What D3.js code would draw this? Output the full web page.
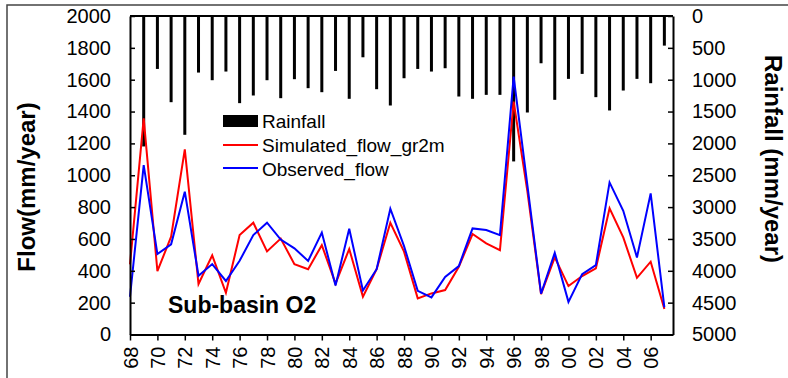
<!DOCTYPE html>
<html>
<head>
<meta charset="utf-8">
<script src="https://cdn.jsdelivr.net/npm/d3@7"></script>
<style>
    body { margin: 0; background: #fff; }
    svg { display: block; font-family: "Liberation Sans", Arial, sans-serif; }
</style>
</head>
<body>
<div id="chart"></div>
<script>
// Year labels (1968 - 2007)
var years = ["68","69","70","71","72","73","74","75","76","77","78","79",
    "80","81","82","83","84","85","86","87","88","89","90","91","92","93",
    "94","95","96","97","98","99","00","01","02","03","04","05","06","07"];

// Simulated flow gr2m (mm/year)
var simulated = [440, 1357, 398, 614, 1163, 317, 497, 262, 624, 702, 522, 602,
    442, 410, 561, 320, 537, 237, 410, 702, 520, 227, 258, 279, 425, 631,
    572, 530, 1462, 900, 253, 484, 304, 367, 415, 792, 610, 356, 457, 160];

// Observed flow (mm/year)
var observed = [237, 1064, 505, 566, 897, 369, 442, 336, 463, 624, 702, 596,
    541, 462, 640, 308, 664, 276, 410, 790, 555, 274, 233, 362, 430, 666,
    656, 624, 1619, 940, 256, 513, 205, 379, 436, 955, 777, 484, 886, 170];

// Rainfall (mm/year), no bar for 68
var rainfall = [null, 2048, 831, 1353, 1865, 888, 1008, 872, 1368, 1248, 1008, 1290,
    992, 1133, 1196, 862, 1300, 648, 1149, 1405, 977, 831, 872, 820, 1264, 1300,
    1238, 1238, 2283, 1515, 742, 1316, 987, 909, 1274, 1483, 1170, 987, 1055, 465];

var flowTicks = [0, 200, 400, 600, 800, 1000, 1200, 1400, 1600, 1800, 2000];
var rainTicks = [0, 500, 1000, 1500, 2000, 2500, 3000, 3500, 4000, 4500, 5000];

function init() {
    var w = 788, h = 378;
    var left = 130, right = 673, top = 16, bottom = 334.5;

    var svg = d3.select("#chart").append("svg")
        .attr("width", w)
        .attr("height", h);

    // outer frame (only top and left show)
    svg.append("path")
        .attr("d", "M7,378V5H790")
        .attr("fill", "none")
        .attr("stroke", "#444")
        .attr("stroke-width", 1.5);

    var x = d3.scaleLinear().domain([0, 39.63]).range([left, right]);
    var yFlow = d3.scaleLinear().domain([0, 2000]).range([bottom, top]);
    var yRain = d3.scaleLinear().domain([0, 5000]).range([top, bottom]);

    // Rainfall bars hanging from the top
    svg.append("g").selectAll("rect")
        .data(rainfall.map((v, i) => ({ i: i, v: v })).filter(d => d.v != null))
        .enter().append("rect")
        .attr("x", d => x(d.i) - 1.5)
        .attr("y", yRain(0))
        .attr("width", 3)
        .attr("height", d => yRain(d.v) - yRain(0))
        .attr("fill", "#000");

    // Flow lines
    var line = d3.line().x((d, i) => x(i)).y(d => yFlow(d));
    svg.append("path")
        .datum(simulated)
        .attr("d", line)
        .attr("fill", "none")
        .attr("stroke", "#ff0000")
        .attr("stroke-width", 2);
    svg.append("path")
        .datum(observed)
        .attr("d", line)
        .attr("fill", "none")
        .attr("stroke", "#0000ff")
        .attr("stroke-width", 2);

    // Left axis
    var gl = svg.append("g")
        .attr("transform", `translate(${left},0)`)
        .call(d3.axisLeft(yFlow).tickValues(flowTicks).tickFormat(d3.format("d"))
            .tickSizeInner(-5).tickSizeOuter(0).tickPadding(19));

    // Right axis
    var gr = svg.append("g")
        .attr("transform", `translate(${right},0)`)
        .call(d3.axisRight(yRain).tickValues(rainTicks).tickFormat(d3.format("d"))
            .tickSizeInner(-5).tickSizeOuter(0).tickPadding(19));

    // Bottom axis, every second year
    var evenIdx = years.map((d, i) => i).filter(i => i % 2 === 0);
    var gb = svg.append("g")
        .attr("transform", `translate(0,${bottom})`)
        .call(d3.axisBottom(x).tickValues(evenIdx).tickFormat(i => years[i])
            .tickSizeInner(6).tickSizeOuter(0));
    gb.selectAll("text")
        .attr("transform", "rotate(-90)")
        .attr("x", -12)
        .attr("y", 0)
        .attr("dy", "0.35em")
        .style("text-anchor", "end");

    [gl, gr, gb].forEach(g => {
        g.selectAll("text").attr("font-size", 20).attr("fill", "#000")
            .attr("font-family", "Liberation Sans, Arial, sans-serif");
        g.selectAll("line").attr("stroke", "#000").attr("stroke-width", 1.5);
        g.select(".domain").attr("stroke", "#000").attr("stroke-width", 2);
    });

    // top border of plot
    svg.append("line")
        .attr("x1", left).attr("x2", right)
        .attr("y1", top).attr("y2", top)
        .attr("stroke", "#000").attr("stroke-width", 2);

    // Axis titles
    svg.append("text")
        .attr("transform", "translate(35,187) rotate(-90)")
        .attr("text-anchor", "middle")
        .attr("font-size", 24).attr("font-weight", "bold")
        .text("Flow(mm/year)");
    svg.append("text")
        .attr("transform", "translate(765,159) rotate(90)")
        .attr("text-anchor", "middle")
        .attr("font-size", 24).attr("font-weight", "bold")
        .text("Rainfall (mm/year)");

    // Sub-basin label
    svg.append("text")
        .attr("x", 168).attr("y", 313)
        .attr("font-size", 23).attr("font-weight", "bold")
        .text("Sub-basin O2");

    // Legend
    var lg = svg.append("g").attr("font-size", 19);
    lg.append("rect").attr("x", 223).attr("y", 115).attr("width", 35).attr("height", 12).attr("fill", "#000");
    lg.append("text").attr("x", 262).attr("y", 128).text("Rainfall");
    lg.append("line").attr("x1", 223).attr("x2", 258).attr("y1", 145).attr("y2", 145)
        .attr("stroke", "#ff0000").attr("stroke-width", 2);
    lg.append("text").attr("x", 262).attr("y", 152).text("Simulated_flow_gr2m");
    lg.append("line").attr("x1", 223).attr("x2", 258).attr("y1", 168).attr("y2", 168)
        .attr("stroke", "#0000ff").attr("stroke-width", 2);
    lg.append("text").attr("x", 262).attr("y", 176).text("Observed_flow");
}

window.onload = init;
</script>
</body>
</html>
